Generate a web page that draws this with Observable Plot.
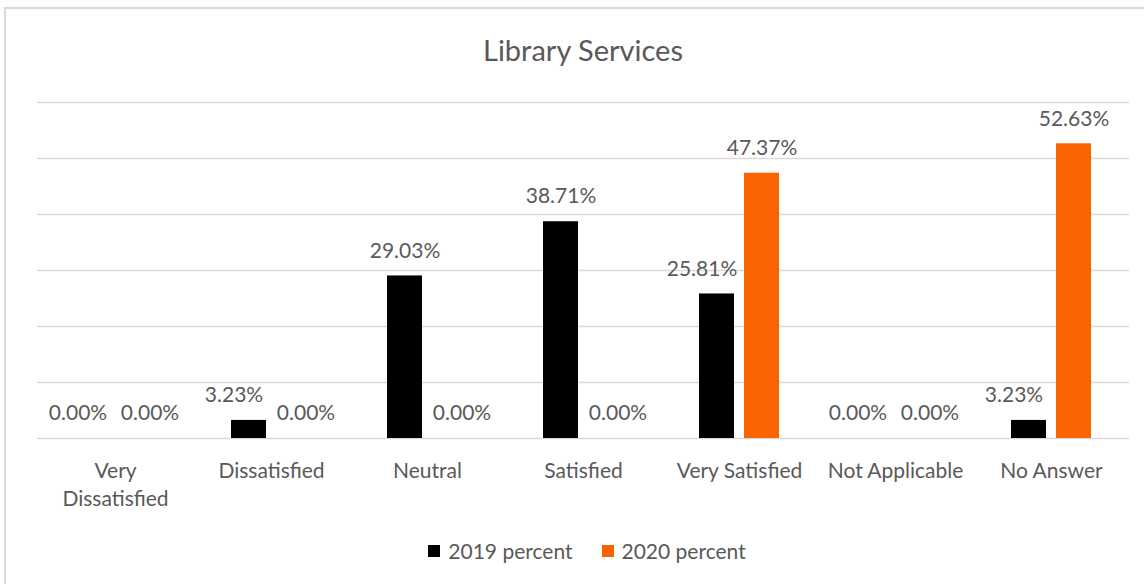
<!DOCTYPE html>
<html>
<head>
<meta charset="utf-8">
<script src="https://cdn.jsdelivr.net/npm/d3@7"></script>
<script src="https://cdn.jsdelivr.net/npm/@observablehq/plot@0.6"></script>
<style>
  body { margin: 0; background: #fff; font-family: Lato, "Open Sans", sans-serif; }
  #wrap { position: relative; width: 1144px; height: 584px; overflow: hidden; background: #fff; }
  #frame { position: absolute; left: 4px; top: 7px; width: 1170px; height: 620px; border: 2px solid #d9d9d9; box-sizing: border-box; }
  #title { position: absolute; left: 0; top: 33px; width: 1166px; text-align: center; font-size: 29px; line-height: 34px; color: #595959; }
  #chart { position: absolute; left: 0; top: 80px; }
  #legend { position: absolute; left: 0; top: 539px; width: 1174px; display: flex; justify-content: center; align-items: center; gap: 29px; font-size: 21px; line-height: 24px; color: #595959; }
  .item { display: flex; align-items: center; gap: 8px; }
  .sw { width: 12px; height: 12px; display: inline-block; }
</style>
</head>
<body>
<div id="wrap">
  <div id="frame"></div>
  <div id="title">Library Services</div>
  <div id="chart"></div>
  <div id="legend"></div>
</div>
<script>
const categories = ["Very Dissatisfied", "Dissatisfied", "Neutral", "Satisfied", "Very Satisfied", "Not Applicable", "No Answer"];
const seriesNames = ["2019 percent", "2020 percent"];
const values2019 = [0.00, 3.23, 29.03, 38.71, 25.81, 0.00, 3.23];
const values2020 = [0.00, 0.00, 0.00, 0.00, 47.37, 0.00, 52.63];
const colors = ["#000000", "#fa6400"];
const gridTicks = [0, 10, 20, 30, 40, 50, 60];

const rows = categories.flatMap((c, i) => [
  {category: c, series: seriesNames[0], value: values2019[i], other: values2020[i]},
  {category: c, series: seriesNames[1], value: values2020[i], other: values2019[i]}
]);
// a label collides with its neighbour when the other bar reaches its height
const crowded = d => d.other >= d.value - 4;
const fmt = d => d3.format(".2f")(d.value) + "%";
const textOpts = {fx: "category", x: "series", y: "value", text: fmt, dy: -25, lineAnchor: "middle", fontSize: 21, fill: "#595959"};

const chart = Plot.plot({
  width: 1144,
  height: 460,
  marginTop: 22,
  marginBottom: 102,
  marginLeft: 36,
  marginRight: 14,
  fx: {domain: categories, padding: 0, label: null},
  x: {domain: seriesNames, paddingInner: 0.22, paddingOuter: 0.835, axis: null},
  y: {domain: [0, 60], axis: null},
  color: {domain: seriesNames, range: colors},
  style: {fontFamily: "Lato, 'Open Sans', sans-serif", color: "#595959", background: "transparent", overflow: "visible"},
  marks: [
    Plot.ruleY(gridTicks, {stroke: "#d9d9d9", strokeWidth: 1.6}),
    Plot.barY(rows, {fx: "category", x: "series", y: "value", fill: "series"}),
    Plot.text(rows.filter(d => d.series === seriesNames[0] && !crowded(d)), textOpts),
    Plot.text(rows.filter(d => d.series === seriesNames[0] && crowded(d)), {...textOpts, dx: -15}),
    Plot.text(rows.filter(d => d.series === seriesNames[1] && !crowded(d)), textOpts),
    Plot.text(rows.filter(d => d.series === seriesNames[1] && crowded(d)), {...textOpts, dx: 12}),
    Plot.axisFx({anchor: "bottom", tickSize: 0, tickPadding: 20, label: null, fontSize: 21, lineHeight: 1.33, fill: "#595959",
      tickFormat: d => d.length > 15 ? d.replace(" ", "\n") : d})
  ]
});
document.getElementById("chart").appendChild(chart);

const legend = document.getElementById("legend");
seriesNames.forEach((s, i) => {
  const item = document.createElement("div");
  item.className = "item";
  const sw = document.createElement("span");
  sw.className = "sw";
  sw.style.background = colors[i];
  const t = document.createElement("span");
  t.textContent = s;
  item.appendChild(sw);
  item.appendChild(t);
  legend.appendChild(item);
});
</script>
</body>
</html>
